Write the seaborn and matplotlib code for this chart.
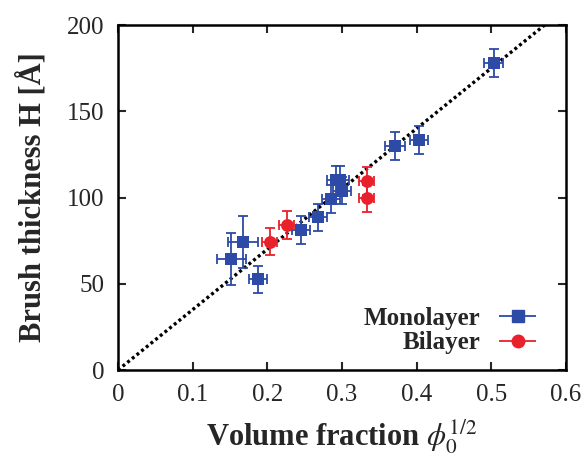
import matplotlib
matplotlib.use("Agg")
import matplotlib.pyplot as plt
from matplotlib.legend_handler import HandlerErrorbar
import numpy as np
import pandas as pd
import seaborn as sns

# Monolayer brushes
mono_x = [0.152, 0.168, 0.188, 0.245, 0.268, 0.285, 0.292, 0.297, 0.300, 0.371, 0.403, 0.503]
mono_h = [64.5, 74.0, 52.5, 81.0, 88.5, 99.0, 110.0, 110.0, 104.0, 130.0, 133.5, 178.0]
mono_xerr = [0.020, 0.020, 0.012, 0.012, 0.012, 0.012, 0.012, 0.012, 0.012, 0.013, 0.012, 0.013]
mono_herr = [15, 15, 8, 8, 8, 8, 8, 8, 8, 8, 8, 8]

# Bilayer brushes
bi_x = [0.203, 0.226, 0.333, 0.333]
bi_h = [74.5, 84.0, 109.5, 99.5]
bi_xerr = [0.010, 0.010, 0.010, 0.010]
bi_herr = [8, 8, 8, 8]

# Linear scaling H ~ phi^(1/2)
slope = 350.0
fit_x = [0.0, 0.6]

x_ticks = [0, 0.1, 0.2, 0.3, 0.4, 0.5, 0.6]
x_labels = ["0", "0.1", "0.2", "0.3", "0.4", "0.5", "0.6"]
y_ticks = [0, 50, 100, 150, 200]

blue = "#2D4BA6"
red = "#E8212B"

sns.set_theme(style="ticks")
plt.rcParams["font.family"] = ["Liberation Serif", "DejaVu Serif"]
plt.rcParams["mathtext.fontset"] = "stix"

fig = plt.figure(figsize=(5.85, 4.58), dpi=100)
ax = fig.add_axes([0.2017, 0.1921, 0.7658, 0.7533])

fx = np.array(fit_x)
ax.plot(fx, slope * fx, color="black", lw=2.4, linestyle=(0, (0.9, 0.9)), zorder=1)

ax.errorbar(mono_x, mono_h, xerr=mono_xerr, yerr=mono_herr, fmt="none",
            ecolor=blue, elinewidth=1.3, capsize=3.5, capthick=1.3, zorder=2)
ax.errorbar(bi_x, bi_h, xerr=bi_xerr, yerr=bi_herr, fmt="none",
            ecolor=red, elinewidth=1.3, capsize=3.5, capthick=1.3, zorder=2)

mono_df = pd.DataFrame({"x": mono_x, "H": mono_h})
bi_df = pd.DataFrame({"x": bi_x, "H": bi_h})
sns.scatterplot(data=mono_df, x="x", y="H", ax=ax, marker="s", s=85,
                color=blue, edgecolor=blue, linewidth=0, zorder=3)
sns.scatterplot(data=bi_df, x="x", y="H", ax=ax, marker="o", s=85,
                color=red, edgecolor=red, linewidth=0, zorder=3)

ax.set_xlim(0, 0.6)
ax.set_ylim(0, 200)
ax.set_xticks(x_ticks)
ax.set_xticklabels(x_labels)
ax.set_yticks(y_ticks)
ax.tick_params(direction="in", length=6, width=1.5, top=True, right=True,
               labelsize=18)
ax.tick_params(axis="x", pad=10)
ax.tick_params(axis="y", pad=10)
for sp in ax.spines.values():
    sp.set_linewidth(1.8)
    sp.set_color("black")

ax.set_xlabel(r"Volume fraction $\phi_0^{1/2}$", fontsize=22, fontweight="bold", labelpad=8)
ax.set_ylabel("Brush thickness H [Å]", fontsize=22, fontweight="bold", labelpad=14)

# legend proxies with horizontal error bars only
h_mono = ax.errorbar([], [], xerr=[], fmt="s", color=blue, ms=9, elinewidth=1.3,
                     capsize=3.5, capthick=1.3)
h_bi = ax.errorbar([], [], xerr=[], fmt="o", color=red, ms=9, elinewidth=1.3,
                   capsize=3.5, capthick=1.3)
ax.legend([h_mono, h_bi], ["Monolayer", "Bilayer"], loc="lower right",
          bbox_to_anchor=(0.987, -0.02), frameon=False, markerfirst=False,
          prop={"size": 18, "weight": "bold"}, handlelength=1.6,
          handletextpad=0.7, labelspacing=0.05,
          handler_map={type(h_mono): HandlerErrorbar(xerr_size=0.75)})

fig.savefig("out.png", dpi=100)
